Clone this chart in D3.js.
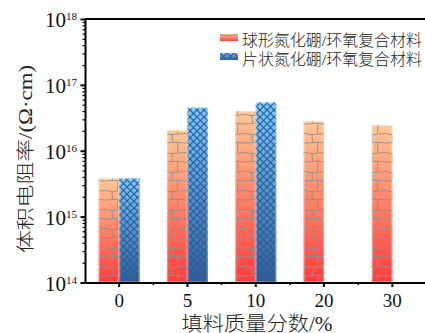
<!DOCTYPE html>
<html>
<head>
<meta charset="utf-8">
<script src="https://d3js.org/d3.v7.min.js"></script>
<style>
  html, body { margin: 0; padding: 0; background: #fff; }
  svg { display: block; }
  text { font-family: "Liberation Serif", "Noto Sans CJK SC", serif; fill: #111; }
  .cjk { font-weight: 300; fill: #222; }
</style>
</head>
<body>
<svg id="chart" width="425" height="333"></svg>
<script>
// data
const categories = ['0', '5', '10', '20', '30'];
const sphereBN = [3.8e15, 2.05e16, 4.0e16, 2.8e16, 2.45e16];
const flakeBN = [3.8e15, 4.5e16, 5.4e16, null, null];
const seriesNames = ['球形氮化硼/环氧复合材料', '片状氮化硼/环氧复合材料'];
const yTicks = [1e14, 1e15, 1e16, 1e17, 1e18];
const yTitle = '体积电阻率/(Ω·cm)';
const xTitle = '填料质量分数/%';

const svg = d3.select('svg#chart');
const WIDTH = +svg.attr('width');
const HEIGHT = +svg.attr('height');
const margin = {top: 19, right: -1.5, bottom: 50.5, left: 85};
const innerW = WIDTH - margin.left - margin.right;
const innerH = HEIGHT - margin.top - margin.bottom;
const barW = 20.5;

const x = d3.scaleBand().domain(categories).range([0, innerW]).padding(0);
const sub = d3.scaleBand().domain(['sphere', 'flake']).range([-barW, barW]);
const y = d3.scaleLog().domain([1e14, 1e18]).range([innerH, 0]);

// defs: gradients + patterns
const defs = svg.append('defs');
function grad(id, top, bottom) {
  const g = defs.append('linearGradient').attr('id', id)
    .attr('x1', 0).attr('y1', 0).attr('x2', 0).attr('y2', 1);
  g.append('stop').attr('offset', '0%').attr('stop-color', top);
  g.append('stop').attr('offset', '100%').attr('stop-color', bottom);
}
grad('gOrange', '#ffc794', '#ff3c3c');
grad('gBlue', '#78ccff', '#2f5c95');

const brick = defs.append('pattern').attr('id', 'brick')
  .attr('patternUnits', 'userSpaceOnUse').attr('width', 20).attr('height', 19);
brick.append('path')
  .attr('d', 'M0,0.5 L7,1.6 L20,0.5 M7,1.6 L7.5,9.5 M0,10 L13,9.2 L20,10.2 M13,9.2 L12.5,19')
  .attr('fill', 'none').attr('stroke', '#8f8f8f').attr('stroke-width', 0.9);

const hatch = defs.append('pattern').attr('id', 'hatch')
  .attr('patternUnits', 'userSpaceOnUse').attr('width', 7).attr('height', 7);
hatch.append('path')
  .attr('d', 'M-1,-1 L8,8 M8,-1 L-1,8')
  .attr('fill', 'none').attr('stroke', '#2c5b97').attr('stroke-width', 1.2);

const g = svg.append('g').attr('transform', `translate(${margin.left},${margin.top})`);

// bars
const rows = categories.map((c, i) => ([
  {cat: c, key: 'sphere', value: sphereBN[i]},
  {cat: c, key: 'flake', value: flakeBN[i]}
])).flat().filter(d => d.value != null);

const fills = {sphere: ['url(#gOrange)', 'url(#brick)'], flake: ['url(#gBlue)', 'url(#hatch)']};

const bars = g.append('g').attr('class', 'bars').selectAll('g').data(rows).enter().append('g');
bars.append('rect')
  .attr('x', d => x(d.cat) + x.bandwidth() / 2 + sub(d.key))
  .attr('y', d => y(d.value))
  .attr('width', barW)
  .attr('height', d => innerH - y(d.value))
  .attr('fill', d => fills[d.key][0]);
bars.append('rect')
  .attr('x', d => x(d.cat) + x.bandwidth() / 2 + sub(d.key))
  .attr('y', d => y(d.value))
  .attr('width', barW)
  .attr('height', d => innerH - y(d.value))
  .attr('fill', d => fills[d.key][1]);
bars.append('rect')
  .attr('x', d => x(d.cat) + x.bandwidth() / 2 + sub(d.key) + 0.6)
  .attr('y', d => y(d.value) + 0.6)
  .attr('width', barW - 1.2)
  .attr('height', d => innerH - y(d.value) - 1.2)
  .attr('fill', 'none').attr('stroke', 'rgba(255,255,255,0.3)').attr('stroke-width', 1.2);

// y axis (major + minor log ticks)
const minor = [];
for (let e = 14; e < 18; e++) for (let k = 2; k <= 9; k++) minor.push(k * Math.pow(10, e));

g.append('g').call(d3.axisLeft(y).tickValues(minor).tickSize(2.5).tickFormat(''))
  .call(a => a.select('.domain').remove())
  .selectAll('line').attr('stroke', '#000').attr('stroke-width', 1.2);
const yAx = g.append('g').call(d3.axisLeft(y).tickValues(yTicks).tickSize(4.5).tickSizeOuter(0).tickFormat(''));
yAx.select('.domain').attr('stroke-width', 2);
yAx.selectAll('line').attr('stroke-width', 2);

const yLab = g.append('g').selectAll('text').data(yTicks).enter().append('text')
  .attr('x', -8).attr('y', d => y(d) + 8)
  .attr('text-anchor', 'end');
yLab.append('tspan').attr('font-size', 21).text('10');
yLab.append('tspan').attr('font-size', 11).attr('dy', -7).text(d => Math.round(Math.log10(d)));

// x axis
const bounds = categories.slice(1).map((c) => x(c));
g.append('g').attr('transform', `translate(0,${innerH})`)
  .selectAll('line').data(bounds).enter().append('line')
  .attr('x1', d => d).attr('x2', d => d).attr('y1', 0).attr('y2', 2.5)
  .attr('stroke', '#000').attr('stroke-width', 1.5);
const xAx = g.append('g').attr('transform', `translate(0,${innerH})`)
  .call(d3.axisBottom(x).tickSize(4.5).tickSizeOuter(0).tickPadding(7));
xAx.select('.domain').attr('stroke-width', 2);
xAx.selectAll('line').attr('stroke-width', 2);
xAx.selectAll('text').attr('font-size', 19).attr('fill', '#111')
  .attr('font-family', '"Liberation Serif", serif');

// top frame
g.append('line').attr('x1', 0).attr('x2', innerW + 2).attr('y1', 0).attr('y2', 0)
  .attr('stroke', '#000').attr('stroke-width', 2);

// titles
svg.append('text').attr('class', 'cjk')
  .attr('transform', `translate(32,159) rotate(-90)`)
  .attr('text-anchor', 'middle').attr('font-size', 18)
  .attr('textLength', 188).attr('lengthAdjust', 'spacingAndGlyphs')
  .text(yTitle);
svg.append('text').attr('class', 'cjk')
  .attr('x', 257).attr('y', 330.5)
  .attr('text-anchor', 'middle').attr('font-size', 20)
  .attr('textLength', 151).attr('lengthAdjust', 'spacingAndGlyphs')
  .text(xTitle);

// legend
const legend = svg.append('g').attr('transform', 'translate(220,34)');
const li = legend.selectAll('g').data(seriesNames).enter().append('g')
  .attr('transform', (d, i) => `translate(0,${i * 19})`);
li.append('rect').attr('width', 18).attr('height', 7)
  .attr('fill', (d, i) => i === 0 ? 'url(#gOrange)' : 'url(#gBlue)');
li.append('rect').attr('width', 18).attr('height', 7)
  .attr('fill', (d, i) => i === 0 ? 'url(#brick)' : 'url(#hatch)');
li.append('text').attr('class', 'cjk').attr('x', 22).attr('y', 11.5)
  .attr('font-size', 15.5)
  .attr('textLength', 180).attr('lengthAdjust', 'spacingAndGlyphs')
  .text(d => d);
</script>
</body>
</html>
